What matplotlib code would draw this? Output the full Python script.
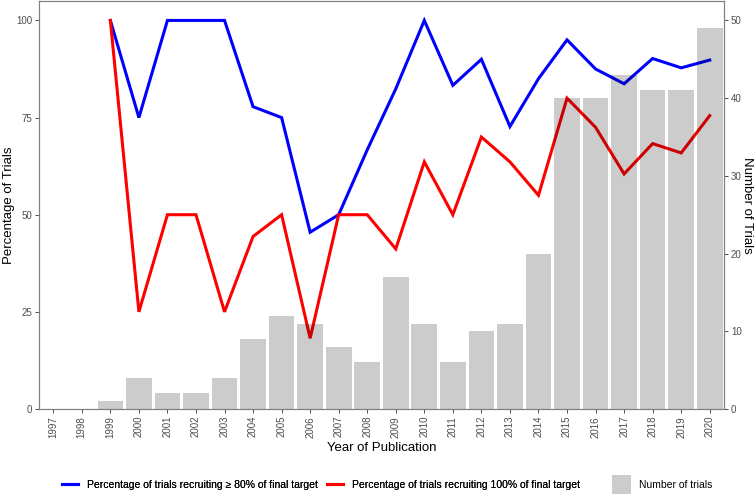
import numpy as np
import matplotlib
matplotlib.use("Agg")
import matplotlib.pyplot as plt
from matplotlib.lines import Line2D
from matplotlib.patches import Patch, Rectangle
from matplotlib.legend_handler import HandlerPatch

plt.rcParams['font.family'] = ['Liberation Sans', 'DejaVu Sans']

years = list(range(1997, 2021))
n_trials = [0, 0, 1, 4, 2, 2, 4, 9, 12, 11, 8, 6, 17, 11, 6, 10, 11, 20,
            40, 40, 43, 41, 41, 49]
pct_80 = [np.nan, np.nan, 100, 75, 100, 100, 100, 77.8, 75, 45.5, 50, 66.7,
          82.4, 100, 83.3, 90, 72.7, 85, 95, 87.5, 83.7, 90.2, 87.8, 89.8]
pct_100 = [np.nan, np.nan, 100, 25, 50, 50, 25, 44.4, 50, 18.2, 50, 50,
           41.2, 63.6, 50, 70, 63.6, 55, 80, 72.5, 60.5, 68.3, 65.9, 75.5]

label_80 = "Percentage of trials recruiting \u2265 80% of final target"
label_100 = "Percentage of trials recruiting 100% of final target"
label_n = "Number of trials"

spine_col = "#808080"
tick_col = "#4d4d4d"

fig = plt.figure(figsize=(7.56, 4.94), dpi=100)
ax = fig.add_axes([39 / 756, 1 - 409 / 494, (724 - 39) / 756, 408 / 494])

ax.plot(years, pct_80, color="#0000ff", lw=2.2, solid_joinstyle="miter")
ax.plot(years, pct_100, color="#ff0000", lw=2.2, solid_joinstyle="miter")
ax.set_xlim(1996.5, 2020.5)
ax.set_ylim(0, 105)
ax.set_yticks([0, 25, 50, 75, 100])
ax.set_xticks(years)
ax.set_xticklabels([str(y) for y in years], rotation=90)

# bars on the secondary axis, drawn over the lines with transparency
ax2 = ax.twinx()
ax2.bar(years, n_trials, width=0.9, color="black", alpha=0.2, linewidth=0)
ax2.set_ylim(0, 52.5)
ax2.set_yticks([0, 10, 20, 30, 40, 50])

for a in (ax, ax2):
    for s in a.spines.values():
        s.set_color(spine_col)
        s.set_linewidth(0.8)
    a.tick_params(colors="#333333", labelcolor=tick_col, labelsize=7,
                  length=3, width=0.6, pad=2)

ax.set_xlabel("Year of Publication", fontsize=9.5, labelpad=3)
ax.set_ylabel("Percentage of Trials", fontsize=9.5, labelpad=1)
ax2.set_ylabel("Number of Trials", fontsize=9.5, rotation=-90, labelpad=8)


def square_key(legend, orig_handle, xdescent, ydescent, width, height, fontsize):
    s = 13.7
    return Rectangle((-xdescent, -ydescent + height / 2 - s / 2), s, s)


leg_y = 1 - 485 / 494
line_handles = [Line2D([], [], color="#0000ff", lw=2.2),
                Line2D([], [], color="#ff0000", lw=2.2)]
leg1 = fig.legend(line_handles, [label_80, label_100], loc="center left",
                  bbox_to_anchor=(62 / 756, leg_y), ncol=2, frameon=False,
                  fontsize=7.5, handlelength=1.54, handletextpad=0.86,
                  columnspacing=0.86, borderpad=0, borderaxespad=0)
fig.add_artist(leg1)
fig.legend([Patch(facecolor="black", alpha=0.2, linewidth=0)], [label_n],
           loc="center left", bbox_to_anchor=(612 / 756, leg_y),
           frameon=False, fontsize=7.5, handlelength=1.83,
           handletextpad=0.77, borderpad=0, borderaxespad=0,
           handler_map={Patch: HandlerPatch(patch_func=square_key)})

fig.savefig("out.png", dpi=100)
